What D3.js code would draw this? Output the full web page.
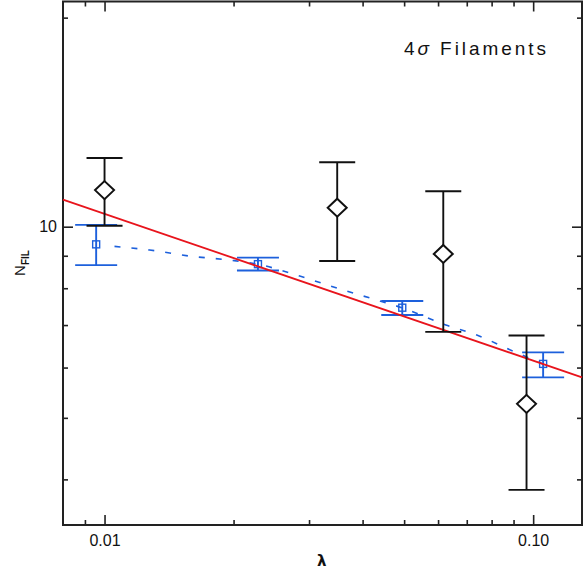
<!DOCTYPE html>
<html>
<head>
<meta charset="utf-8">
<script src="https://cdn.jsdelivr.net/npm/d3@7"></script>
<style>
  body { margin: 0; background: #fff; }
  svg { display: block; }
</style>
</head>
<body>
<div class="chart"></div>
<script>
/*
----------------------------------------------------------
                   data
----------------------------------------------------------
*/
// black diamonds
var lamBlack  = [0.0100, 0.0349, 0.0617, 0.0965];
var nBlack    = [11.29, 10.65, 9.06, 5.26];
var nBlackLo  = [10.03, 8.83, 6.83, 3.85];
var nBlackHi  = [12.56, 12.38, 11.25, 6.74];

// blue squares
var lamBlue   = [0.00956, 0.0228, 0.0495, 0.1055];
var nBlue     = [9.38, 8.73, 7.455, 6.08];
var nBlueLo   = [8.70, 8.53, 7.26, 5.79];
var nBlueHi   = [10.06, 8.94, 7.64, 6.34];

// red power law fit
var lamFit    = [0.008, 0.13];
var nFit      = [10.94, 5.79];

// blue dashed model curve
var lamModel  = [0.01055, 0.01274, 0.01579, 0.01958, 0.02276, 0.02853, 0.03537, 0.04386, 0.04936, 0.06255, 0.07388, 0.08965, 0.10535];
var nModel    = [9.31, 9.19, 8.99, 8.86, 8.73, 8.36, 7.98, 7.64, 7.455, 7.00, 6.75, 6.37, 6.08];

// axes
var xMajor = [0.01, 0.1];
var xMajorLabels = ["0.01", "0.10"];
var xMinor = [0.009, 0.02, 0.03, 0.04, 0.05, 0.06, 0.07, 0.08, 0.09];
var yMajor = [10];
var yMinor = [4, 5, 6, 7, 8, 9, 20];

/*
----------------------------------------------------------
                   the plot
----------------------------------------------------------
*/
var width = 588, height = 571;
var margin = {top: 1.5, right: 6, bottom: 46, left: 63};
var w = width - margin.left - margin.right;
var h = height - margin.top - margin.bottom;

var black = "#111";
var blue = "#1d60dc";
var red = "#e8141c";

var svg = d3.select(".chart").append("svg")
    .attr("width", width)
    .attr("height", height);

var g = svg.append("g")
    .attr("transform", "translate(" + margin.left + "," + margin.top + ")");

var x = d3.scaleLog().domain([0.008, 0.13]).range([0, w]);
// axis in the figure is slightly stretched above 10, hence a two piece log scale
var y = d3.scaleLog().domain([3.39, 10, 21.1]).range([h, 225.2, 0]);

function Axis(axisFn, scale, values, size, labels) {
    var a = axisFn(scale).tickValues(values).tickSizeInner(-size).tickSizeOuter(0);
    if (labels) {
        a.tickFormat(function(d, i) { return labels[i]; });
    } else {
        a.tickFormat("");
    }
    return a;
}

function drawAxis(axis, tx, ty, pad) {
    var sel = g.append("g")
        .attr("transform", "translate(" + tx + "," + ty + ")")
        .call(axis.tickPadding(pad || 3));
    sel.select(".domain").remove();
    sel.selectAll(".tick line")
        .attr("stroke", "#222")
        .attr("stroke-width", 1.6);
    sel.selectAll(".tick text")
        .attr("fill", "#111")
        .style("font-family", "'Liberation Sans', Arial, sans-serif")
        .style("font-size", "16px");
    return sel;
}

// bottom
drawAxis(Axis(d3.axisBottom, x, xMajor, 10, xMajorLabels), 0, h, 10);
drawAxis(Axis(d3.axisBottom, x, xMinor, 5), 0, h);
// top
drawAxis(Axis(d3.axisTop, x, xMajor, 10), 0, 0);
drawAxis(Axis(d3.axisTop, x, xMinor, 5), 0, 0);
// left
drawAxis(Axis(d3.axisLeft, y, yMajor, 10, ["10"]), 0, 0, 6);
drawAxis(Axis(d3.axisLeft, y, yMinor, 5), 0, 0);
// right
drawAxis(Axis(d3.axisRight, y, yMajor, 10), w, 0);
drawAxis(Axis(d3.axisRight, y, yMinor, 5), w, 0);

// frame
g.append("rect")
    .attr("width", w)
    .attr("height", h)
    .attr("fill", "none")
    .attr("stroke", "#222")
    .attr("stroke-width", 2);

var plot = g.append("g");

function series(lam, n) {
    return lam.map(function(l, i) { return {x: l, y: n[i]}; });
}

// dashed model
plot.append("path")
    .datum(series(lamModel, nModel))
    .attr("fill", "none")
    .attr("stroke", blue)
    .attr("stroke-width", 1.6)
    .attr("stroke-dasharray", "6,11")
    .attr("d", d3.line()
        .x(function(d) { return x(d.x); })
        .y(function(d) { return y(d.y); })
        .curve(d3.curveMonotoneX));

function errorBars(lam, lo, hi, color, cap) {
    var data = lam.map(function(l, i) { return {x: l, lo: lo[i], hi: hi[i]}; });
    var eb = plot.append("g")
        .attr("stroke", color)
        .attr("stroke-width", 1.9)
        .attr("fill", "none");
    eb.selectAll(".bar").data(data).enter()
        .append("line")
            .attr("x1", function(d) { return x(d.x); })
            .attr("x2", function(d) { return x(d.x); })
            .attr("y1", function(d) { return y(d.lo); })
            .attr("y2", function(d) { return y(d.hi); });
    ["lo", "hi"].forEach(function(k) {
        eb.selectAll(".cap-" + k).data(data).enter()
            .append("line")
                .attr("x1", function(d) { return x(d.x) - cap; })
                .attr("x2", function(d) { return x(d.x) + cap; })
                .attr("y1", function(d) { return y(d[k]); })
                .attr("y2", function(d) { return y(d[k]); });
    });
}

// blue points
errorBars(lamBlue, nBlueLo, nBlueHi, blue, 21);
plot.selectAll(".sq").data(series(lamBlue, nBlue)).enter()
    .append("rect")
        .attr("class", "sq")
        .attr("x", function(d) { return x(d.x) - 3.5; })
        .attr("y", function(d) { return y(d.y) - 3.5; })
        .attr("width", 7)
        .attr("height", 7)
        .attr("fill", "none")
        .attr("stroke", blue)
        .attr("stroke-width", 1.4);

// red fit
plot.append("path")
    .datum(series(lamFit, nFit))
    .attr("fill", "none")
    .attr("stroke", red)
    .attr("stroke-width", 1.8)
    .attr("d", d3.line()
        .x(function(d) { return x(d.x); })
        .y(function(d) { return y(d.y); }));

// black points
errorBars(lamBlack, nBlackLo, nBlackHi, black, 18);
plot.selectAll(".dia").data(series(lamBlack, nBlack)).enter()
    .append("path")
        .attr("class", "dia")
        .attr("d", "M 0 -9 L 9.5 0 L 0 9 L -9.5 0 Z")
        .attr("transform", function(d) { return "translate(" + x(d.x) + "," + y(d.y) + ")"; })
        .attr("fill", "#fff")
        .attr("stroke", black)
        .attr("stroke-width", 2);

// label in the corner
var title = g.append("text")
    .attr("x", 404 - margin.left)
    .attr("y", 55 - margin.top)
    .attr("textLength", 142)
    .attr("lengthAdjust", "spacing")
    .style("font-family", "'Liberation Sans', Arial, sans-serif")
    .style("font-size", "19px")
    .attr("fill", "#111");
title.append("tspan").text("4");
title.append("tspan").style("font-style", "italic").text("\u03c3");
title.append("tspan").text(" Filaments");

// axis titles
svg.append("text")
    .attr("x", 321.7)
    .attr("y", 565.7)
    .attr("text-anchor", "middle")
    .style("font-family", "'DejaVu Sans', sans-serif")
    .style("font-weight", "bold")
    .style("font-size", "15px")
    .attr("fill", "#111")
    .text("\u03bb");

var ylab = svg.append("text")
    .attr("transform", "translate(25,263) rotate(-90)")
    .attr("text-anchor", "middle")
    .style("font-family", "'Liberation Sans', Arial, sans-serif")
    .attr("fill", "#111");
ylab.append("tspan").style("font-size", "15px").text("N");
ylab.append("tspan").attr("dy", 4).style("font-size", "10px").style("font-weight", "bold").text("FIL");
</script>
</body>
</html>
